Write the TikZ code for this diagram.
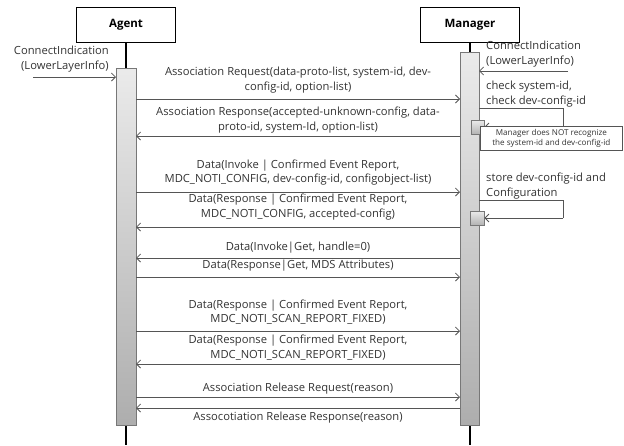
\documentclass[tikz,border=0pt]{standalone}
\usepackage{fontspec}
\setmainfont{Open Sans}
\usetikzlibrary{arrows.meta}
\definecolor{linegray}{HTML}{555555}
\definecolor{bargray}{HTML}{777777}
\definecolor{txt}{HTML}{333333}
\begin{document}
\begin{tikzpicture}[x=1pt,y=-1pt,
  every node/.style={font=\fontsize{11.2}{14.5}\selectfont, text=txt, inner sep=0pt},
  actor/.style={draw=black, line width=1.8pt, fill=white, minimum width=99pt, minimum height=35pt, font=\fontsize{11.5}{13}\selectfont\bfseries, text=black},
  life/.style={draw=black, line width=1.8pt},
  actbar/.style={draw=bargray, line width=0.8pt, top color=black!8, bottom color=black!32},
  sqbox/.style={draw=bargray, line width=0.8pt, top color=black!8, bottom color=black!30},
  msg/.style={draw=linegray, line width=0.9pt, -{Straight Barb[length=4pt,width=8pt,line width=0.8pt]}},
  selfline/.style={draw=linegray, line width=0.8pt},
  lbl/.style={align=center},
  side/.style={align=left, anchor=west},
  notebox/.style={draw=linegray, line width=0.8pt, fill=white, align=center, font=\fontsize{8.1}{10}\selectfont, minimum width=142pt, minimum height=24pt}
]
\useasboundingbox (0,0) rectangle (624,445);
% actors
\node[actor] (agent) at (126,25) {Agent};
\node[actor] (mgr) at (470,25) {Manager};
\coordinate (agentEnd) at (126,445);
\coordinate (mgrEnd) at (470,445);
\draw[life] (agent.south) -- (agentEnd);
\draw[life] (mgr.south) -- (mgrEnd);
% activation bars
\path[actbar] (116,68) rectangle (136,425);
\path[actbar] (460,52) rectangle (479,425);

% connect indications
\node[align=right, anchor=east] (ciL) at (109,59) {ConnectIndication\\(LowerLayerInfo)};
\coordinate (ciLs) at (33,77); \coordinate (ciLe) at (116,77);
\draw[msg] (ciLs) -- (ciLe);
\node[side] (ciR) at (486,54) {ConnectIndication\\(LowerLayerInfo)};
\coordinate (ciRs) at (568,71); \coordinate (ciRe) at (479,71);
\draw[msg] (ciRs) -- (ciRe);

% messages
\node[lbl] (t1) at (298,80) {Association Request(data-proto-list, system-id, dev-\\config-id, option-list)};
\coordinate (a1) at (136,99); \coordinate (m1) at (460,99);
\draw[msg] (a1) -- (m1);

\node[lbl] (t2) at (298,120) {Association Response(accepted-unknown-config, data-\\proto-id, system-Id, option-list)};
\coordinate (a2) at (136,136); \coordinate (m2) at (460,136);
\draw[msg] (m2) -- (a2);

% check self message
\node[side] (chk) at (486,94) {check system-id,\\check dev-config-id};
\node[sqbox, minimum width=13pt, minimum height=14pt] (sq1) at (477.5,127) {};
\coordinate (s1a) at (479,108); \coordinate (s1b) at (563,108); \coordinate (s1c) at (563,127);
\draw[selfline] (s1a) -- (s1b) -- (s1c);
\draw[msg] (s1c) -- (sq1.east);
\node[notebox, anchor=north west] (note) at (480,126) {Manager does NOT recognize\\the system-id and dev-config-id};

\node[lbl] (t3) at (298,172.5) {Data(Invoke | Confirmed Event Report,\\MDC\_NOTI\_CONFIG, dev-config-id, configobject-list)};
\coordinate (a3) at (136,192); \coordinate (m3) at (460,192);
\draw[msg] (a3) -- (m3);

\node[lbl] (t4) at (298,207) {Data(Response | Confirmed Event Report,\\MDC\_NOTI\_CONFIG, accepted-config)};
\coordinate (a4) at (136,227); \coordinate (m4) at (460,227);
\draw[msg] (m4) -- (a4);

% store self message
\node[side] (sto) at (486,186) {store dev-config-id and\\Configuration};
\node[sqbox, minimum width=14pt, minimum height=14pt] (sq2) at (477,218) {};
\coordinate (s2a) at (479,200); \coordinate (s2b) at (563,200); \coordinate (s2c) at (563,218);
\draw[selfline] (s2a) -- (s2b) -- (s2c);
\draw[msg] (s2c) -- (sq2.east);

\node[lbl] (t5) at (298,248) {Data(Invoke|Get, handle=0)};
\coordinate (a5) at (136,258); \coordinate (m5) at (460,258);
\draw[msg] (m5) -- (a5);

\node[lbl] (t6) at (298,266) {Data(Response|Get, MDS Attributes)};
\coordinate (a6) at (136,277); \coordinate (m6) at (460,277);
\draw[msg] (a6) -- (m6);

\node[lbl] (t7) at (298,312) {Data(Response | Confirmed Event Report,\\MDC\_NOTI\_SCAN\_REPORT\_FIXED)};
\coordinate (a7) at (136,331); \coordinate (m7) at (460,331);
\draw[msg] (a7) -- (m7);

\node[lbl] (t8) at (298,347.5) {Data(Response | Confirmed Event Report,\\MDC\_NOTI\_SCAN\_REPORT\_FIXED)};
\coordinate (a8) at (136,364); \coordinate (m8) at (460,364);
\draw[msg] (m8) -- (a8);

\node[lbl] (t9) at (298,389) {Association Release Request(reason)};
\coordinate (a9) at (136,397); \coordinate (m9) at (460,397);
\draw[msg] (a9) -- (m9);

\node[lbl] (t10) at (298,418) {Assocotiation Release Response(reason)};
\coordinate (a10) at (136,408); \coordinate (m10) at (460,408);
\draw[msg] (m10) -- (a10);
\end{tikzpicture}
\end{document}
